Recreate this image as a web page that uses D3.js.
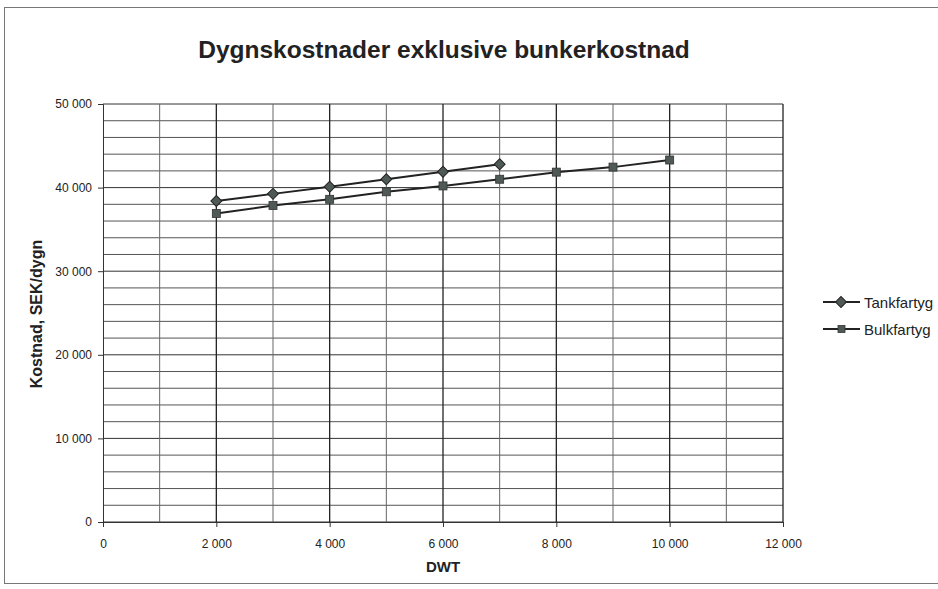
<!DOCTYPE html>
<html><head><meta charset="utf-8">
<script src="https://cdn.jsdelivr.net/npm/d3@7"></script>
<style>body{margin:0;background:#fff}svg{display:block}</style>
</head><body>
<svg id="c" width="938" height="589"></svg>
<script>
const title = "Dygnskostnader exklusive bunkerkostnad";
const xLabel = "DWT";
const yLabel = "Kostnad, SEK/dygn";
const seriesNames = ["Tankfartyg", "Bulkfartyg"];
const tankX = [2000, 3000, 4000, 5000, 6000, 7000];
const tankY = [38400, 39250, 40100, 41000, 41900, 42800];
const bulkX = [2000, 3000, 4000, 5000, 6000, 7000, 8000, 9000, 10000];
const bulkY = [36900, 37850, 38600, 39500, 40200, 41000, 41850, 42450, 43300];
const xTicks = [0, 2000, 4000, 6000, 8000, 10000, 12000];
const yTicks = [0, 10000, 20000, 30000, 40000, 50000];

const svg = d3.select("#c");
const font = "Arial, 'Liberation Sans', sans-serif";
const L = 103, R = 783, T = 104, B = 522;
const x = d3.scaleLinear().domain([0, 12000]).range([L, R]);
const y = d3.scaleLinear().domain([0, 50000]).range([B, T]);
const fmt = v => d3.format(",")(v).replace(/,/g, " ");

// outer frame
svg.append("rect").attr("x", 4.5).attr("y", 7.5).attr("width", 940).attr("height", 576)
  .attr("fill", "none").attr("stroke", "#777").attr("stroke-width", 1);

// grid
const g = svg.append("g");
d3.range(0, 50001, 2000).forEach(v => {
  g.append("line").attr("x1", L).attr("x2", R).attr("y1", y(v)).attr("y2", y(v))
    .attr("stroke", v % 10000 === 0 ? "#333" : "#555").attr("stroke-width", 1);
});
d3.range(1000, 12001, 1000).forEach(v => {
  g.append("line").attr("x1", x(v)).attr("x2", x(v)).attr("y1", T).attr("y2", B)
    .attr("stroke", v % 2000 === 0 ? "#222" : "#666").attr("stroke-width", v % 2000 === 0 ? 1.3 : 1);
});

// axes
const xa = svg.append("g").attr("transform", `translate(0,${B})`)
  .call(d3.axisBottom(x).tickValues(xTicks).tickFormat(fmt).tickSize(5).tickPadding(12));
const ya = svg.append("g").attr("transform", `translate(${L},0)`)
  .call(d3.axisLeft(y).tickValues(yTicks).tickFormat(fmt).tickSize(5).tickPadding(6));
[xa, ya].forEach(a => {
  a.selectAll("text").attr("font-family", font).attr("font-size", 12).attr("fill", "#222");
  a.selectAll("line").attr("stroke", "#333");
  a.select(".domain").attr("stroke", "#333");
});

// series
const line = d3.line().x(d => x(d[0])).y(d => y(d[1]));
const tank = tankX.map((v, i) => [v, tankY[i]]);
const bulk = bulkX.map((v, i) => [v, bulkY[i]]);
svg.append("path").datum(tank).attr("d", line).attr("fill", "none").attr("stroke", "#222").attr("stroke-width", 2);
svg.append("path").datum(bulk).attr("d", line).attr("fill", "none").attr("stroke", "#222").attr("stroke-width", 2);
svg.selectAll(".tm").data(tank).join("path")
  .attr("transform", d => `translate(${x(d[0])},${y(d[1])}) rotate(45)`)
  .attr("d", d3.symbol().type(d3.symbolSquare).size(60))
  .attr("fill", "#4f5a57").attr("stroke", "#222").attr("stroke-width", 1);
svg.selectAll(".bm").data(bulk).join("rect")
  .attr("x", d => x(d[0]) - 4).attr("y", d => y(d[1]) - 4).attr("width", 8).attr("height", 8)
  .attr("fill", "#4f5a57").attr("stroke", "#333").attr("stroke-width", 0.8);

// legend
const leg = [[seriesNames[0], 302, "d"], [seriesNames[1], 329, "s"]];
leg.forEach(([name, ly, t]) => {
  svg.append("line").attr("x1", 823).attr("x2", 860).attr("y1", ly).attr("y2", ly).attr("stroke", "#222").attr("stroke-width", 2);
  if (t === "d") {
    svg.append("path").attr("transform", `translate(841,${ly}) rotate(45)`)
      .attr("d", d3.symbol().type(d3.symbolSquare).size(60)).attr("fill", "#4f5a57").attr("stroke", "#222");
  } else {
    svg.append("rect").attr("x", 838).attr("y", ly - 3.5).attr("width", 7).attr("height", 7).attr("fill", "#4f5a57").attr("stroke", "#333").attr("stroke-width", 0.8);
  }
  svg.append("text").attr("x", 864).attr("y", ly + 5.5).attr("font-family", font).attr("font-size", 15).attr("fill", "#222").text(name);
});

// title & labels
svg.append("text").attr("x", 444).attr("y", 58).attr("text-anchor", "middle")
  .attr("font-family", font).attr("font-weight", "bold").attr("font-size", 24.5).attr("fill", "#222").text(title);
svg.append("text").attr("x", 443).attr("y", 572).attr("text-anchor", "middle")
  .attr("font-family", font).attr("font-weight", "bold").attr("font-size", 15).attr("fill", "#222").text(xLabel);
svg.append("text").attr("transform", `translate(42,314) rotate(-90)`).attr("text-anchor", "middle")
  .attr("font-family", font).attr("font-weight", "bold").attr("font-size", 16).attr("fill", "#222").text(yLabel);
</script>
</body></html>
